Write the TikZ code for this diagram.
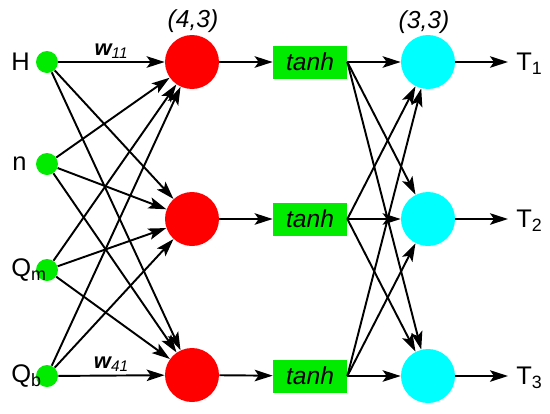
\documentclass[tikz,border=0pt]{standalone}
\usepackage{fontspec}
\setmainfont{Liberation Sans}
\usetikzlibrary{arrows.meta}

\definecolor{nodegreen}{RGB}{0,235,0}
\definecolor{nodered}{RGB}{255,0,0}
\definecolor{nodecyan}{RGB}{0,255,255}

\begin{document}
\begin{tikzpicture}[x=0.02cm, y=-0.02cm, >={Stealth[length=3.6mm, width=2.3mm, inset=0.8mm]}]

% --- Stijlen ---
\tikzset{
    inputnode/.style={circle, fill=nodegreen, minimum size=0.44cm, inner sep=0pt},
    hiddennode/.style={circle, fill=nodered, minimum size=1.08cm, inner sep=0pt},
    outputnode/.style={circle, fill=nodecyan, minimum size=1.08cm, inner sep=0pt},
    actbox/.style={fill=nodegreen, minimum width=1.48cm, minimum height=0.66cm,
        inner sep=0pt, font=\fontsize{14}{16}\selectfont\itshape},
    varlabel/.style={anchor=west, inner sep=0pt, font=\fontsize{14.5}{16}\selectfont},
    layerlabel/.style={font=\fontsize{14}{16}\selectfont\itshape},
    weightlabel/.style={font=\fontsize{12.5}{14}\selectfont\itshape, inner sep=1.5pt},
    arrow/.style={->, line width=1.1pt}
}

\useasboundingbox (0,0) rectangle (550,413);

% --- Ingangen (links) ---
\node[inputnode] (i1) at (47,62) {};
\node[inputnode] (i2) at (47,164) {};
\node[inputnode] (i3) at (47,270) {};
\node[inputnode] (i4) at (47,376) {};

\node[varlabel] (lH) at (11,62) {H};
\node[varlabel] (ln) at (12,164) {n};
\node[varlabel] (lQm) at (11,270) {Q\textsubscript{m}};
\node[varlabel] (lQb) at (11,376) {Q\textsubscript{b}};

% --- Verborgen laag (rood) ---
\node[hiddennode] (h1) at (192,62) {};
\node[hiddennode] (h2) at (192,219) {};
\node[hiddennode] (h3) at (192,375) {};
\node[layerlabel] (s1) at (193,21) {(4,3)};

% --- Activatie ---
\node[actbox] (t1) at (310,62) {tanh};
\node[actbox] (t2) at (310,219) {tanh};
\node[actbox] (t3) at (310,376) {tanh};

% --- Uitgangslaag (cyaan) ---
\node[outputnode] (o1) at (428,62) {};
\node[outputnode] (o2) at (428,219) {};
\node[outputnode] (o3) at (428,376) {};
\node[layerlabel] (s2) at (424,22) {(3,3)};

% --- Pijlen ingang -> verborgen ---
\draw[arrow] (i1) -- (h1) node[midway, above, weightlabel] {\textbf{w}\textsubscript{11}};
\draw[arrow] (i1) -- (h2);
\draw[arrow] (i1) -- (h3);
\draw[arrow] (i2) -- (h1);
\draw[arrow] (i2) -- (h2);
\draw[arrow] (i2) -- (h3);
\draw[arrow] (i3) -- (h1);
\draw[arrow] (i3) -- (h2);
\draw[arrow] (i3) -- (h3);
\draw[arrow] (i4) -- (h1);
\draw[arrow] (i4) -- (h2);
\draw[arrow] (i4) -- (h3) node[midway, above, weightlabel] {\textbf{w}\textsubscript{41}};

% --- Verborgen -> tanh ---
\draw[arrow] (h1) -- (t1);
\draw[arrow] (h2) -- (t2);
\draw[arrow] (h3) -- (t3);

% --- tanh -> uitgang ---
\draw[arrow] (t1.east) -- (o1);
\draw[arrow] (t1.east) -- (o2);
\draw[arrow] (t1.east) -- (o3);
\draw[arrow] (t2.east) -- (o1);
\draw[arrow] (t2.east) -- (o2);
\draw[arrow] (t2.east) -- (o3);
\draw[arrow] (t3.east) -- (o1);
\draw[arrow] (t3.east) -- (o2);
\draw[arrow] (t3.east) -- (o3);

% --- Uitgangen ---
\coordinate (e1) at (508,62);
\coordinate (e2) at (508,219);
\coordinate (e3) at (508,376);
\draw[arrow] (o1) -- (e1);
\draw[arrow] (o2) -- (e2);
\draw[arrow] (o3) -- (e3);
\node[varlabel] (T1) at (516,64) {T\textsubscript{1}};
\node[varlabel] (T2) at (516,221) {T\textsubscript{2}};
\node[varlabel] (T3) at (516,378) {T\textsubscript{3}};

\end{tikzpicture}
\end{document}
